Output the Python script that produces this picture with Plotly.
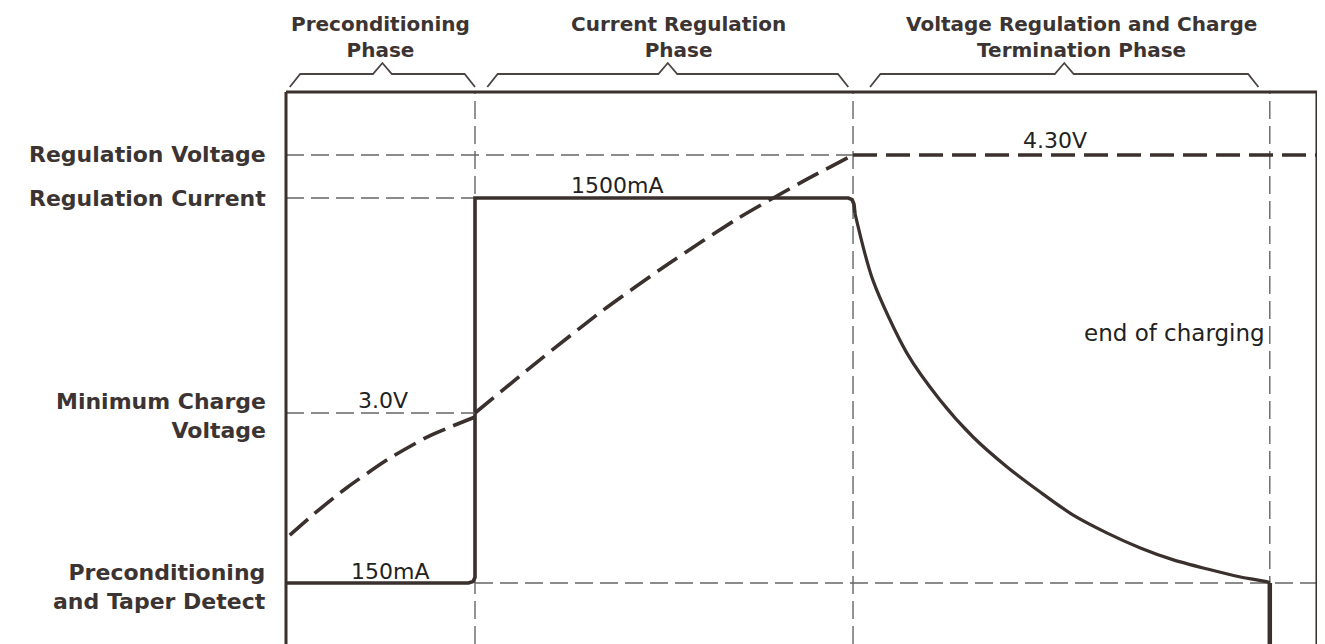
import plotly.graph_objects as go

# ---------------- data ----------------
# time axis in arbitrary units (phase boundaries)
T_PRECOND_END = 20.0
T_CC_END = 60.0
T_TERM = 104.1
T_MAX = 109.2

# charge current (mA): preconditioning + constant-current step
T_CUR_STEP = [0, 19.3, 19.8, 20.0, 20.0, 59.5, 59.9, 60.1, 60.2]
I_CUR_STEP = [150, 150, 155, 170, 1500, 1500, 1494, 1478, 1447]
# charge current (mA): taper during voltage regulation
T_CUR_TAPER = [60.2, 62.1, 65.7, 69.2, 72.7, 76.3, 79.8, 83.3, 86.9, 90.4, 93.9,
               97.5, 101.0, 103.9, 104.1]
I_CUR_TAPER = [1447, 1212, 956, 792, 662, 557, 469, 388, 325, 273, 231,
               199, 171, 153.5, 150]
# charge current (mA): termination drop
T_CUR_END = [104.1, 104.1]
I_CUR_END = [150, -64]

# battery voltage (V)
T_VOLT_PRE = [0.4, 2.9, 6.5, 11.0, 15.2, 20.0]
V_VOLT_PRE = [2.385, 2.489, 2.626, 2.773, 2.885, 2.980]
T_VOLT_CC = [20.0, 26.6, 33.5, 40.6, 47.7, 54.7, 60.0]
V_VOLT_CC = [3.0, 3.258, 3.516, 3.756, 3.977, 4.167, 4.30]
T_VOLT_CV = [60.0, 109.2]
V_VOLT_CV = [4.30, 4.30]

# levels
V_REG = 4.30
V_MIN = 3.0
I_REG = 1500
I_PRE = 150

# axis ranges
I_RANGE = [-63.9, 1871.7]
V_RANGE = [1.836, 4.6174]

# phase header labels and brace spans
PHASE_LABELS = ["Preconditioning<br>Phase",
                "Current Regulation<br>Phase",
                "Voltage Regulation and Charge<br>Termination Phase"]
PHASE_LABEL_X = [10.0, 41.5, 84.2]
PHASE_LABEL_Y = [1.1005, 1.1005, 1.1005]
BRACE_SPANS = [[0.4, 20.0], [21.3, 59.5], [61.8, 102.9]]

# left level labels: (text, axis, level, yshift)
LEVEL_LABELS = [
    ("Regulation Voltage", "y2", V_REG, 0),
    ("Regulation Current", "y", I_REG, 0),
    ("Minimum Charge<br>Voltage", "y2", V_MIN, -3.5),
    ("Preconditioning<br>and Taper Detect", "y", I_PRE, -3.5),
]

# value labels: (text, x, axis, y, yshift)
VALUE_LABELS = [
    ("1500mA", 35.0, "y", I_REG, 13),
    ("4.30V", 81.4, "y2", V_REG, 14),
    ("3.0V", 10.3, "y2", V_MIN, 12),
    ("150mA", 11.0, "y", I_PRE, 12),
]
END_LABEL = "end of charging"

# ---------------- styles ----------------
INK = "#3a302d"
GUIDE = "#666666"
TEXT_BOLD = "#3c3432"
TEXT_REG = "#222222"
BOLD_FONT = dict(family="DejaVu Sans", size=20, color=TEXT_BOLD, weight="bold")
LEFT_FONT = dict(family="DejaVu Sans", size=22, color=TEXT_BOLD, weight="bold")
REG_FONT = dict(family="DejaVu Sans", size=22, color=TEXT_REG)
GUIDE_LINE = dict(color=GUIDE, width=1.4, dash="18px,7px")
VOLT_LINE = dict(color=INK, width=3.6, dash="24px,9px", shape="spline", smoothing=0.6)
BODY_MARGIN = 8  # default page margin around the plot div

fig = go.Figure()

# horizontal guide lines
fig.add_trace(go.Scatter(x=[0, T_CC_END], y=[V_REG, V_REG], yaxis="y2", mode="lines", line=GUIDE_LINE, hoverinfo="skip"))
fig.add_trace(go.Scatter(x=[0, T_PRECOND_END], y=[I_REG, I_REG], yaxis="y", mode="lines", line=GUIDE_LINE, hoverinfo="skip"))
fig.add_trace(go.Scatter(x=[0, T_PRECOND_END], y=[V_MIN, V_MIN], yaxis="y2", mode="lines", line=GUIDE_LINE, hoverinfo="skip"))
fig.add_trace(go.Scatter(x=[T_PRECOND_END, T_MAX], y=[I_PRE, I_PRE], yaxis="y", mode="lines", line=GUIDE_LINE, hoverinfo="skip"))

shapes = []
# vertical phase boundaries
for t in [T_PRECOND_END, T_CC_END, T_TERM]:
    shapes.append(dict(type="line", xref="x", yref="paper", x0=t, x1=t, y0=0, y1=1,
                       line=dict(color=GUIDE, width=1.4, dash="18px,7px"), layer="below"))
# frame: left, top, right
shapes.append(dict(type="line", xref="paper", yref="paper", x0=0, x1=0, y0=0, y1=1, line=dict(color=INK, width=3)))
shapes.append(dict(type="line", xref="paper", yref="paper", x0=0, x1=1, y0=1, y1=1, line=dict(color=INK, width=3)))
shapes.append(dict(type="line", xref="paper", yref="paper", x0=0.999, x1=0.999, y0=0, y1=1, line=dict(color=INK, width=3)))

# braces above the plot
yb, ym, yp = 1.009, 1.0326, 1.0525
for a, b in BRACE_SPANS:
    c = (a + b) / 2
    path = (f"M {a},{yb} L {a+1.1},{ym} L {c-1.0},{ym} L {c},{yp} "
            f"L {c+1.0},{ym} L {b-1.1},{ym} L {b},{yb}")
    shapes.append(dict(type="path", xref="x", yref="paper", path=path,
                       line=dict(color="#4a4442", width=1.8)))

# voltage curve (dashed)
fig.add_trace(go.Scatter(x=T_VOLT_PRE, y=V_VOLT_PRE, yaxis="y2", mode="lines", line=VOLT_LINE, hoverinfo="skip"))
fig.add_trace(go.Scatter(x=T_VOLT_CC, y=V_VOLT_CC, yaxis="y2", mode="lines", line=VOLT_LINE, hoverinfo="skip"))
fig.add_trace(go.Scatter(x=T_VOLT_CV, y=V_VOLT_CV, yaxis="y2", mode="lines",
                         line=dict(color=INK, width=3.6, dash="24px,9px"), hoverinfo="skip"))
# current curve (solid)
fig.add_trace(go.Scatter(x=T_CUR_STEP, y=I_CUR_STEP, yaxis="y", mode="lines",
                         line=dict(color=INK, width=3.6), hoverinfo="skip"))
fig.add_trace(go.Scatter(x=T_CUR_TAPER, y=I_CUR_TAPER, yaxis="y", mode="lines",
                         line=dict(color=INK, width=3.2, shape="spline", smoothing=0.8), hoverinfo="skip"))
fig.add_trace(go.Scatter(x=T_CUR_END, y=I_CUR_END, yaxis="y", mode="lines",
                         line=dict(color=INK, width=4.5), hoverinfo="skip"))

annotations = []
# phase headers
for txt, x, y in zip(PHASE_LABELS, PHASE_LABEL_X, PHASE_LABEL_Y):
    annotations.append(dict(text=txt, x=x, xref="x", y=y, yref="paper", align="center",
                            xanchor="center", yanchor="middle", showarrow=False, font=BOLD_FONT))
# level labels
for txt, ax, lvl, sh in LEVEL_LABELS:
    annotations.append(dict(text=txt, x=-0.0175, xref="paper", y=lvl, yref=ax, yshift=sh, align="right",
                            xanchor="right", yanchor="middle", showarrow=False, font=LEFT_FONT))
# value labels
for txt, x, ax, y, sh in VALUE_LABELS:
    annotations.append(dict(text=txt, x=x, xref="x", y=y, yref=ax, yshift=sh,
                            xanchor="center", yanchor="middle", showarrow=False, font=REG_FONT))
annotations.append(dict(text=END_LABEL, x=T_TERM - 0.3, xref="x", y=0.5634, yref="paper",
                        xanchor="right", yanchor="middle", showarrow=False,
                        font=dict(family="DejaVu Sans", size=23, color=TEXT_REG)))

fig.update_layout(
    width=1325 - BODY_MARGIN, height=644 - BODY_MARGIN,
    margin=dict(l=286 - BODY_MARGIN, r=7, t=92 - BODY_MARGIN, b=0),
    paper_bgcolor="white", plot_bgcolor="white",
    showlegend=False,
    shapes=shapes, annotations=annotations,
    xaxis=dict(range=[0, T_MAX], showgrid=False, zeroline=False, showticklabels=False, ticks="",
               showline=False, fixedrange=True),
    yaxis=dict(range=I_RANGE, showgrid=False, zeroline=False, showticklabels=False, ticks="",
               showline=False, fixedrange=True),
    yaxis2=dict(range=V_RANGE, overlaying="y", visible=False, fixedrange=True),
)

fig.write_html("out.html")
